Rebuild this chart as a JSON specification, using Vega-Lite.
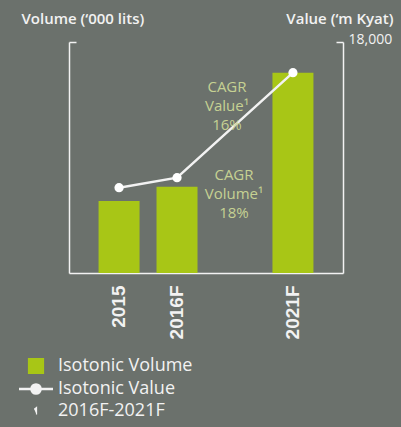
{
  "$schema": "https://vega.github.io/schema/vega-lite/v6.json",
  "width": 274,
  "height": 231,
  "autosize": {"type": "none"},
  "padding": {"left": 69, "top": 42, "right": 58, "bottom": 154},
  "background": "#6b716c",
  "config": {"view": {"stroke": null}, "font": "Open Sans"},
  "data": {"values": [
    {"year": "2015", "volume": 3740, "value": 6650},
    {"year": "2016F", "volume": 4480, "value": 7430},
    {"year": "2021F", "volume": 10400, "value": 15610}
  ]},
  "encoding": {
    "x": {
      "field": "year", "type": "nominal",
      "scale": {"domain": ["2015", "2016F", "gap", "2021F"], "paddingInner": 0.293, "paddingOuter": 0.51},
      "axis": {
        "title": null, "labelAngle": -90, "labelPadding": 12, "ticks": false,
        "labelExpr": "datum.value === 'gap' ? '' : datum.value",
        "domainColor": "#f2f2f2", "domainWidth": 1.5,
        "labelColor": "#f2f2f2", "labelFont": "Liberation Sans", "labelFontSize": 19, "labelFontWeight": "bold"
      }
    }
  },
  "layer": [
    {
      "mark": {"type": "bar"},
      "encoding": {
        "y": {
          "field": "volume", "type": "quantitative",
          "scale": {"domain": [0, 12000], "nice": false},
          "axis": {
            "orient": "left", "values": [12000], "labels": false, "grid": false,
            "tickSize": -7, "tickColor": "#f2f2f2", "tickWidth": 1.5,
            "domainColor": "#f2f2f2", "domainWidth": 1.5,
            "title": "Volume (‘000 lits)", "titleAngle": 0, "titleAlign": "left", "titleBaseline": "alphabetic",
            "titleX": -48, "titleY": -19, "titleColor": "#f2f2f2", "titleFontSize": 15, "titleFontWeight": 600, "titleFont": "Open Sans"
          }
        },
        "color": {
          "datum": "Isotonic Volume", "type": "nominal",
          "scale": {"domain": ["Isotonic Volume", "Isotonic Value", "2016F-2021F"], "range": ["#a8c616", "#f2f2f2", "#f2f2f2"]},
          "legend": {
            "orient": "none", "legendX": -42, "legendY": 315, "title": null, "padding": 0,
            "labelFont": "Open Sans", "labelFontSize": 18, "labelColor": "#f2f2f2", "labelOffset": 13,
            "symbolSize": 1156, "symbolType": "square", "rowPadding": 3,
            "encode": {
              "symbols": {
                "update": {
                  "shape": {"signal": "datum.value === 'Isotonic Value' ? 'M-1,0H1M0.27,0A0.27,0.27 0 1 1 -0.27,0A0.27,0.27 0 1 1 0.27,0Z' : datum.value === '2016F-2021F' ? 'M-0.5,-0.5L0.15,-1V1' : 'square'"},
                  "size": {"signal": "datum.value === 'Isotonic Value' ? 1156 : datum.value === '2016F-2021F' ? 49 : 225"},
                  "fill": {"signal": "datum.value === 'Isotonic Volume' ? '#a8c616' : datum.value === 'Isotonic Value' ? '#f2f2f2' : 'transparent'"},
                  "stroke": {"signal": "datum.value === 'Isotonic Volume' ? 'transparent' : '#f2f2f2'"},
                  "strokeWidth": {"signal": "datum.value === 'Isotonic Value' ? 2.5 : 1.2"},
                  "opacity": {"value": 1}
                }
              }
            }
          }
        }
      }
    },
    {
      "encoding": {
        "y": {
          "field": "value", "type": "quantitative",
          "scale": {"domain": [0, 18000], "nice": false}
        }
      },
      "layer": [
        {
          "mark": {"type": "line", "strokeWidth": 2.5},
          "encoding": {
            "color": {"datum": "Isotonic Value", "type": "nominal"},
            "y": {
              "field": "value", "type": "quantitative",
              "axis": {
                "orient": "right", "values": [18000], "labelExpr": "'18,000'", "grid": false,
                "tickSize": -7, "tickColor": "#f2f2f2", "tickWidth": 1.5, "labelPadding": 12, "labelOffset": -3,
                "labelColor": "#f2f2f2", "labelFont": "Open Sans", "labelFontSize": 14,
                "domainColor": "#f2f2f2", "domainWidth": 1.5,
                "title": "Value (‘m Kyat)", "titleAngle": 0, "titleAlign": "right", "titleBaseline": "alphabetic",
                "titleX": 50, "titleY": -19, "titleColor": "#f2f2f2", "titleFontSize": 15, "titleFontWeight": 600, "titleFont": "Open Sans"
              }
            }
          }
        },
        {
          "mark": {"type": "point", "filled": true, "size": 85, "color": "#ffffff", "opacity": 1}
        },
        {
          "data": {"values": [{"year": "gap", "value": 14494, "label": "CAGR\nValue¹\n16%"}]},
          "mark": {"type": "text", "lineBreak": "\n", "fontSize": 15, "lineHeight": 19, "color": "#c6d193", "align": "center", "baseline": "middle", "dx": -8},
          "encoding": {"text": {"field": "label"}}
        },
        {
          "data": {"values": [{"year": "gap", "value": 7636, "label": "CAGR\nVolume¹\n18%"}]},
          "mark": {"type": "text", "lineBreak": "\n", "fontSize": 15, "lineHeight": 19, "color": "#c6d193", "align": "center", "baseline": "middle", "dx": -1},
          "encoding": {"text": {"field": "label"}}
        }
      ]
    }
  ],
  "resolve": {"scale": {"y": "independent"}}
}
